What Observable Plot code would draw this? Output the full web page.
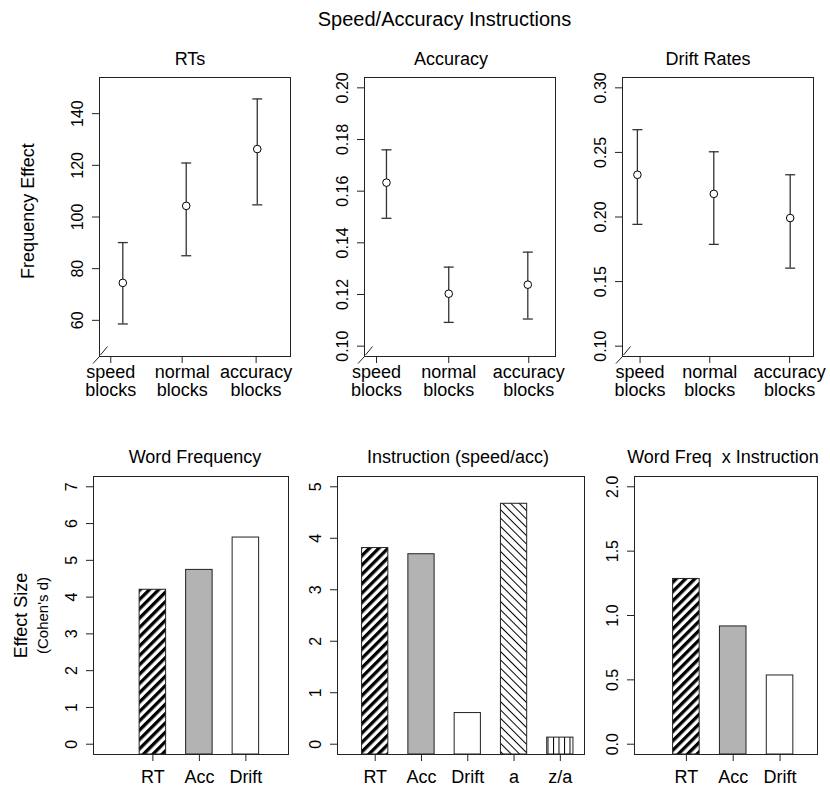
<!DOCTYPE html>
<html>
<head>
<meta charset="utf-8">
<script src="https://cdn.jsdelivr.net/npm/d3@7"></script>
<script src="https://cdn.jsdelivr.net/npm/@observablehq/plot@0.6"></script>
<style>
  body { margin: 0; background: #fff; }
  #wrap { position: relative; width: 830px; height: 788px; background: #fff; font-family: "Liberation Sans", Arial, Helvetica, sans-serif; }
  #title { position: absolute; top: 8.6px; left: 444.5px; transform: translateX(-50%); font-size: 20px; line-height: 20px; white-space: nowrap; color: #000; }
  svg text { white-space: pre; }
</style>
</head>
<body>
<div id="wrap"><div id="title">Speed/Accuracy Instructions</div></div>
<script>
// ---------------- data ----------------
const conditions = ["speed\nblocks", "normal\nblocks", "accuracy\nblocks"];

// top row: frequency effect by instruction (mean with CI)
const rtMean  = [74.5, 104.3, 126.3];
const rtLower = [58.6, 85.0, 104.7];
const rtUpper = [90.1, 120.9, 145.7];
const rtX     = [0.122, 0.454, 0.826];   // condition position along axis (0..1)
const rtTickX = [0.059, 0.433, 0.820];
const rtTicks = [60, 80, 100, 120, 140];
const rtLim   = [50, 150];

const accMean  = [0.1633, 0.1203, 0.1238];
const accLower = [0.1495, 0.1092, 0.1105];
const accUpper = [0.1760, 0.1306, 0.1364];
const accX     = [0.115, 0.441, 0.855];
const accTickX = [0.063, 0.441, 0.860];
const accTicks = [0.10, 0.12, 0.14, 0.16, 0.18, 0.20];
const accLim   = [0.1, 0.2];

const driftMean  = [0.2327, 0.2179, 0.1992];
const driftLower = [0.1943, 0.1788, 0.1604];
const driftUpper = [0.2676, 0.2505, 0.2327];
const driftX     = [0.078, 0.478, 0.878];
const driftTickX = [0.092, 0.457, 0.875];
const driftTicks = [0.10, 0.15, 0.20, 0.25, 0.30];
const driftLim   = [0.1, 0.3];

// bottom row: effect sizes (Cohen's d)
const wfCats  = ["RT", "Acc", "Drift"];
const wfVals  = [4.20, 4.74, 5.62];
const wfTicks = [0, 1, 2, 3, 4, 5, 6, 7];
const wfLim   = [0, 7];

const instCats  = ["RT", "Acc", "Drift", "a", "z/a"];
const instVals  = [3.81, 3.69, 0.605, 4.67, 0.128];
const instTicks = [0, 1, 2, 3, 4, 5];
const instLim   = [0, 5];

const wxiCats  = ["RT", "Acc", "Drift"];
const wxiVals  = [1.284, 0.915, 0.534];
const wxiTicks = [0, 0.5, 1.0, 1.5, 2.0];
const wxiLim   = [0, 2];

// ---------------- helpers ----------------
const FONT = '"Liberation Sans", Arial, Helvetica, sans-serif';
const TICKFS = 16;
const wrap = document.getElementById("wrap");
const padDomain = ([a, b]) => { const p = (b - a) * 0.04; return [a - p, b + p]; };
const capSym = { draw(ctx, size) { const w = Math.sqrt(size / Math.PI); ctx.moveTo(-w, 0); ctx.lineTo(w, 0); } };
const breakSym = { draw(ctx) { ctx.moveTo(-6.5, 7); ctx.lineTo(-0.5, 0.5); ctx.moveTo(1, -1.5); ctx.lineTo(8, -10); } };

function place(svg, left, top) {
  svg.style.position = "absolute";
  svg.style.left = left + "px";
  svg.style.top = top + "px";
  wrap.appendChild(svg);
}

function ciPanel(o) {
  const ydom = padDomain(o.ylim);
  const xdom = [0, 1];
  const rows = o.mean.map((m, i) => ({x: o.xs[i], mean: m, lo: o.lo[i], hi: o.hi[i]}));
  const labelOf = new Map(o.xTicks.map((t, i) => [t, conditions[i]]));
  const marks = [
    Plot.axisY(o.yticks, {tickSize: 7, tickPadding: 10, tickRotate: -90, tickFormat: o.yfmt, fontSize: TICKFS, stroke: "#222", label: null}),
    Plot.axisX(o.xTicks, {tickSize: 7, tickPadding: 1, tickFormat: d => labelOf.get(d), fontSize: 18, lineHeight: 1.02, stroke: "#222", label: null}),
    Plot.frame({stroke: "#222"}),
    Plot.ruleX(rows, {x: "x", y1: "lo", y2: "hi", stroke: "#333", strokeWidth: 1.3}),
    Plot.dot(rows, {x: "x", y: "lo", symbol: capSym, r: 5, fill: "none", stroke: "#333", strokeWidth: 1.3}),
    Plot.dot(rows, {x: "x", y: "hi", symbol: capSym, r: 5, fill: "none", stroke: "#333", strokeWidth: 1.3}),
    Plot.dot(rows, {x: "x", y: "mean", r: 3.8, fill: "white", stroke: "black", strokeWidth: 1}),
    Plot.dot([{x: xdom[0], y: ydom[0]}], {x: "x", y: "y", symbol: breakSym, r: 1, fill: "none", stroke: "#222", strokeWidth: 1}),
    Plot.text([o.title], {text: d => d, frameAnchor: "top", textAnchor: "middle", dy: -13, dx: o.titleDx, lineAnchor: "bottom", fontSize: 18, fill: "black"})
  ];
  if (o.ylabel) marks.push(Plot.text([o.ylabel], {text: d => d, frameAnchor: "left", textAnchor: "middle", dx: o.ylabelDx, dy: -6, rotate: -90, fontSize: 18, fill: "black"}));
  const svg = Plot.plot({
    width: o.w, height: o.h,
    marginLeft: o.mL, marginRight: o.mR, marginTop: o.mT, marginBottom: o.mB,
    style: {fontFamily: FONT, fontSize: TICKFS + "px", color: "black", background: "transparent", overflow: "visible"},
    x: {domain: xdom, label: null},
    y: {domain: ydom, label: null},
    marks
  });
  place(svg, o.left, o.top);
}

function makeDefs(prefix) {
  return () => {
    const defs = d3.create("svg:defs");
    let p = defs.append("pattern").attr("id", prefix + "-thick").attr("patternUnits", "userSpaceOnUse")
      .attr("width", 6.6).attr("height", 10).attr("patternTransform", "rotate(45)");
    p.append("rect").attr("width", 6.6).attr("height", 10).attr("fill", "white");
    p.append("rect").attr("width", 3.3).attr("height", 10).attr("fill", "black");
    p = defs.append("pattern").attr("id", prefix + "-thin").attr("patternUnits", "userSpaceOnUse")
      .attr("width", 5.9).attr("height", 10).attr("patternTransform", "rotate(-45)");
    p.append("rect").attr("width", 5.9).attr("height", 10).attr("fill", "white");
    p.append("rect").attr("width", 1).attr("height", 10).attr("fill", "black");
    p = defs.append("pattern").attr("id", prefix + "-vert").attr("patternUnits", "userSpaceOnUse")
      .attr("width", 5.5).attr("height", 10);
    p.append("rect").attr("width", 5.5).attr("height", 10).attr("fill", "white");
    p.append("rect").attr("width", 1).attr("height", 10).attr("fill", "black");
    return defs.node();
  };
}

function barPanel(o) {
  const ydom = padDomain(o.ylim);
  const rows = o.cats.map((c, i) => ({cat: c, value: o.vals[i]}));
  const fillOf = {RT: `url(#${o.id}-thick)`, Acc: "#b3b3b3", Drift: "white", a: `url(#${o.id}-thin)`, "z/a": `url(#${o.id}-vert)`};
  const marks = [
    makeDefs(o.id),
    Plot.axisY(o.yticks, {tickSize: 7, tickPadding: 10, tickRotate: -90, tickFormat: o.yfmt, fontSize: TICKFS, stroke: "#222", label: null}),
    Plot.axisX({tickSize: 7, tickPadding: 9, fontSize: 18, stroke: "#222", label: null}),
    Plot.barY(rows, {x: "cat", y1: ydom[0], y2: "value", fill: d => fillOf[d.cat], stroke: "#222", strokeWidth: 1}),
    Plot.frame({stroke: "#222"}),
    Plot.text([o.title], {text: d => d, frameAnchor: "top", textAnchor: "middle", dy: -13.5, dx: o.titleDx, lineAnchor: "bottom", fontSize: 18, fill: "black"})
  ];
  if (o.ylabel) {
    marks.push(Plot.text([o.ylabel], {text: d => d, frameAnchor: "left", textAnchor: "middle", dx: o.ylabelDx, rotate: -90, fontSize: 18, fill: "black"}));
    marks.push(Plot.text([o.ysub], {text: d => d, frameAnchor: "left", textAnchor: "middle", dx: o.ysubDx, rotate: -90, fontSize: 15, fill: "black"}));
  }
  const svg = Plot.plot({
    width: o.w, height: o.h,
    marginLeft: o.mL, marginRight: o.mR, marginTop: o.mT, marginBottom: o.mB,
    style: {fontFamily: FONT, fontSize: TICKFS + "px", color: "black", background: "transparent", overflow: "visible"},
    x: {type: "band", domain: o.cats, paddingInner: o.pi, paddingOuter: o.po, align: o.align, round: false, label: null},
    y: {domain: ydom, label: null},
    color: {type: "identity"},
    marks
  });
  place(svg, o.left, o.top);
}

const f2 = d3.format(".2f"), f1 = d3.format(".1f"), f0 = d3.format("d");

// ---------------- top row ----------------
ciPanel({left: 0, top: 30, w: 300, h: 380, mL: 99, mR: 10, mT: 47, mB: 54,
  title: "RTs", titleDx: -5, ylim: rtLim, yticks: rtTicks, yfmt: f0,
  xTicks: rtTickX, xs: rtX, mean: rtMean, lo: rtLower, hi: rtUpper,
  ylabel: "Frequency Effect", ylabelDx: -71});
ciPanel({left: 300, top: 30, w: 260, h: 380, mL: 64, mR: 5, mT: 47, mB: 54,
  title: "Accuracy", titleDx: -9, ylim: accLim, yticks: accTicks, yfmt: f2,
  xTicks: accTickX, xs: accX, mean: accMean, lo: accLower, hi: accUpper});
ciPanel({left: 560, top: 30, w: 270, h: 380, mL: 62, mR: 17, mT: 47, mB: 54,
  title: "Drift Rates", titleDx: -10, ylim: driftLim, yticks: driftTicks, yfmt: f2,
  xTicks: driftTickX, xs: driftX, mean: driftMean, lo: driftLower, hi: driftUpper});

// ---------------- bottom row ----------------
barPanel({id: "wf", left: 0, top: 410, w: 300, h: 378, mL: 93, mR: 12, mT: 66, mB: 34,
  title: "Word Frequency", titleDx: 4, ylim: wfLim, yticks: wfTicks, yfmt: f0,
  cats: wfCats, vals: wfVals, pi: 0.43, po: 0.812, align: 0.611,
  ylabel: "Effect Size", ylabelDx: -72, ysub: "(Cohen's d)", ysubDx: -50});
barPanel({id: "inst", left: 300, top: 410, w: 300, h: 378, mL: 37, mR: 16, mT: 66, mB: 34,
  title: "Instruction (speed/acc)", titleDx: -3, ylim: instLim, yticks: instTicks, yfmt: f0,
  cats: instCats, vals: instVals, pi: 0.433, po: 0.385, align: 0.69});
barPanel({id: "wxi", left: 600, top: 410, w: 230, h: 378, mL: 34, mR: 13, mT: 66, mB: 34,
  title: "Word Freq  x Instruction", titleDx: -3, ylim: wxiLim, yticks: wxiTicks, yfmt: f1,
  cats: wxiCats, vals: wxiVals, pi: 0.433, po: 0.67, align: 0.615});
</script>
</body>
</html>
